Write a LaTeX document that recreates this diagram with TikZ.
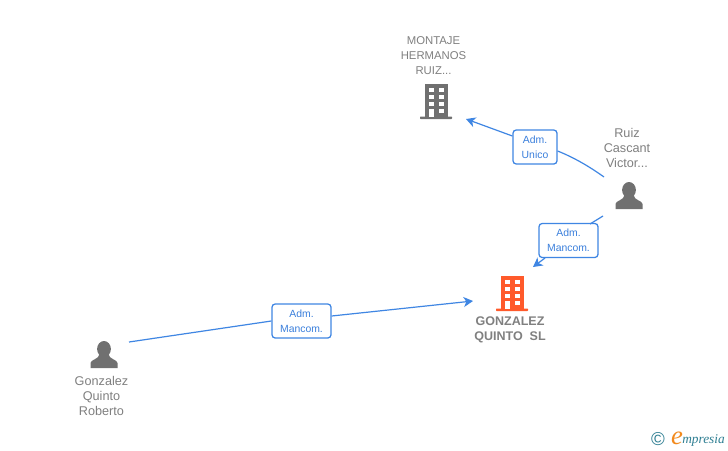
\documentclass[tikz,border=0pt]{standalone}
\usepackage{fontspec}
\setmainfont{Liberation Sans}
\newfontfamily\logofont{Liberation Serif}
\usetikzlibrary{arrows.meta}
\definecolor{linkblue}{HTML}{3F86E3}
\definecolor{boxtext}{HTML}{3A7FDC}
\definecolor{icongrey}{HTML}{707070}
\definecolor{labelgrey}{HTML}{808080}
\definecolor{mainorange}{HTML}{FF5A2B}
\definecolor{logoteal}{HTML}{2F7F93}
\definecolor{logoorange}{HTML}{F28A1E}
\tikzset{
  x=0.75pt,y=-0.75pt,
  link/.style={draw=linkblue,line width=0.9pt},
  linkarrow/.style={link,-{Stealth[length=7pt,width=7.5pt,inset=2pt]}},
  rolebox/.style={draw=linkblue,line width=0.95pt,fill=white,rounded corners=2.4pt,inner sep=0pt,
    text=boxtext,align=center,font={\fontsize{7.8}{11.25}\selectfont}},
  entitylabel/.style={text=labelgrey,align=center,inner sep=0pt,font={\fontsize{8.5}{11.25}\selectfont}},
  personlabel/.style={text=labelgrey,align=center,inner sep=0pt,font={\fontsize{9.5}{11.25}\selectfont}},
  mainlabel/.style={text=labelgrey,align=center,inner sep=0pt,font={\fontsize{9.4}{11.25}\selectfont\bfseries}},
  iconanchor/.style={inner sep=0pt,minimum width=24pt,minimum height=26pt},
}
% building icon: #1 centre x, #2 top y, #3 colour
\newcommand{\buildingicon}[3]{%
  \fill[#3] (#1-11.5,#2) rectangle (#1+11.5,#2+33);
  \fill[#3,rounded corners=0.5pt] (#1-16,#2+32.5) rectangle (#1+16,#2+35);
  \foreach \wy in {4,11,18}{
    \fill[white] (#1-7.5,#2+\wy) rectangle (#1-2.5,#2+\wy+4);
    \fill[white] (#1+2.5,#2+\wy) rectangle (#1+7.5,#2+\wy+4);
  }
  \fill[white] (#1-7.5,#2+25) rectangle (#1-2.5,#2+33);
  \fill[white] (#1+2.5,#2+25) rectangle (#1+7.5,#2+29);
}
% person icon: #1 centre x, #2 top y
\newcommand{\personicon}[2]{%
  \fill[icongrey] (#1,#2+8) ellipse (6.9 and 8);
  \fill[icongrey] (#1-13.5,#2+27) -- (#1-13.5,#2+22)
    .. controls (#1-13.5,#2+18.5) and (#1-5,#2+18.5) .. (#1-4.5,#2+13)
    -- (#1+4.5,#2+13)
    .. controls (#1+5,#2+18.5) and (#1+13.5,#2+18.5) .. (#1+13.5,#2+22)
    -- (#1+13.5,#2+27) -- cycle;
}
\begin{document}
\begin{tikzpicture}
\useasboundingbox (0,0) rectangle (728,450);
\fill[white] (0,0) rectangle (728,450);

% icons
\buildingicon{436}{84}{icongrey}
\buildingicon{512}{276}{mainorange}
\personicon{629}{182}
\personicon{104}{341}
\node[iconanchor] (montajeicon) at (436,101) {};
\node[iconanchor] (gonzalezslicon) at (512,293) {};
\node[iconanchor] (ruizicon) at (629,195) {};
\node[iconanchor] (robertoicon) at (104,354) {};

% labels
\node[entitylabel] (montajelabel) at (433.5,56) {MONTAJE\\HERMANOS\\RUIZ...};
\node[personlabel] (ruizlabel) at (627,148) {Ruiz\\Cascant\\Victor...};
\node[personlabel] (robertolabel) at (101.5,396) {Gonzalez\\Quinto\\Roberto};
\node[mainlabel] (mainlabeltext) at (510,329.5) {GONZALEZ\\QUINTO\ \ SL};

% connector end points
\coordinate (ruizout) at (604,177);
\coordinate (ruizoutb) at (603,216);
\coordinate (robertoout) at (129,342);
\coordinate (montajein) at (466,119);
\coordinate (mainina) at (533,267);
\coordinate (maininb) at (473,301);

% role boxes
\node[rolebox,minimum width=33pt,minimum height=25.5pt] (unico) at (535,147) {Adm.\\Unico};
\node[rolebox,minimum width=44.25pt,minimum height=25.5pt] (mancomb) at (568.5,240.5) {Adm.\\Mancom.};
\node[rolebox,minimum width=44.25pt,minimum height=25.5pt] (mancoma) at (301.5,321) {Adm.\\Mancom.};

% connectors
\draw[link] (ruizout) .. controls (590,167) and (575,158) .. (unico.east |- 0,151);
\draw[linkarrow] (unico.west |- 0,136) -- (montajein);
\draw[link] (ruizoutb) -- (590,224);
\draw[linkarrow] (545,258) -- (mainina);
\draw[link] (robertoout) -- (mancoma.west |- 0,321);
\draw[linkarrow] (mancoma.east |- 0,316) -- (maininb);

% logo
\node[text=logoteal,inner sep=0pt,font={\fontsize{14}{15}\selectfont}] (copyright) at (658,439) {©};
\node[text=logoorange,inner sep=0pt,font={\logofont\itshape\fontsize{20}{22}\selectfont}] (logoe) at (677,438) {e};
\node[text=logoteal,inner sep=0pt,anchor=base west,font={\logofont\itshape\fontsize{10}{11}\selectfont}] (logotext) at (682,443) {mpresia};
\end{tikzpicture}
\end{document}
